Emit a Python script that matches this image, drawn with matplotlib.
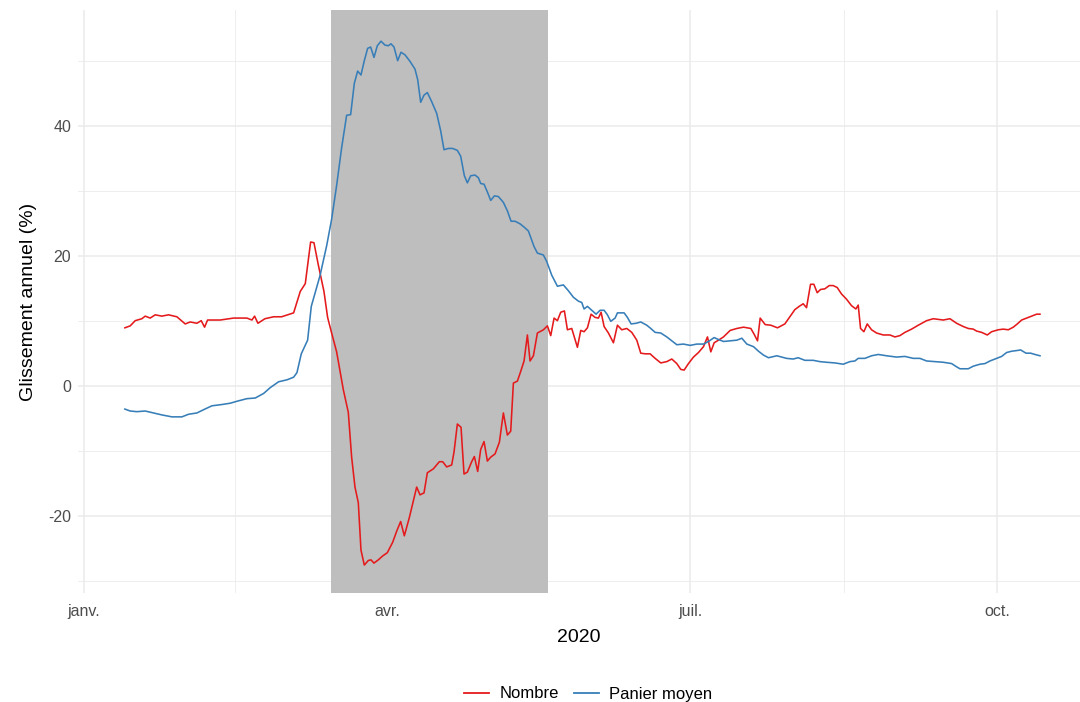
import matplotlib
matplotlib.use("Agg")
import matplotlib.pyplot as plt
import matplotlib.dates as mdates
from matplotlib.lines import Line2D
import numpy as np
import pandas as pd

plt.rcParams['font.family'] = ['Liberation Sans', 'DejaVu Sans']

# Days since 2020-01-01 and values (%)
nombre_jour = [12.4, 14, 15.5, 17.5, 18.5, 20, 21.5, 23.5, 25.5, 28, 30.5, 32, 34, 35.3, 36.3, 37.2,
               41, 45, 49, 50.5, 51.3, 52.3, 54.4, 57, 59.4, 63, 65, 66.5, 68.1, 69.1, 70.4, 72.1,
               73.2, 74.4, 75.9, 77.9, 79.4, 80.4, 81.4, 82.4, 83.2, 84.2, 85.4, 86.2, 87.1, 88.4,
               89.7, 91.1, 92.7, 93.9, 95.1, 96.2, 97.7, 98.9, 99.9, 100.9, 102.1, 103.1, 104.9,
               106.7, 107.7, 108.9, 110.4, 111.1, 112.1, 113.2, 114.1, 115.1, 116.4, 117.2, 118.2,
               119.1, 120.1, 121.1, 122.1, 123.4, 124.7, 125.9, 127.1, 128.1, 128.9, 130.1, 131.1,
               132.1, 133.1, 133.9, 134.9, 136.1, 137.9, 139.1, 140.1, 141.1, 142.1, 143.1, 144.2,
               145.1, 146.4, 148.1, 149.1, 150.1, 151.1, 152.2, 153.4, 154.4, 155.2, 156.1, 157.4,
               158.9, 160.1, 161.4, 162.9, 164.4, 165.9, 167.1, 168.4, 169.9, 171.4, 173.1, 174.9,
               176.4, 177.9, 179.1, 180.1, 181.4, 182.9, 184.4, 185.9, 187.1, 188.1, 189.1, 190.4,
               191.9, 193.9, 195.9, 197.9, 200.1, 201.1, 202.1, 202.9, 204.4, 206.1, 208.1, 210.3,
               211.8, 213.3, 214.6, 215.8, 216.8, 218, 219, 220, 221, 222.3, 223.6, 224.8, 226,
               227.3, 228.8, 230.3, 231.6, 232.3, 233, 234, 235, 236.3, 237.8, 239.8, 241.8, 243.3,
               244.8, 246.3, 248.3, 250.3, 252.8, 254.8, 257.8, 259.8, 261.8, 263.8, 265.3, 266.8,
               267.8, 269.3, 271, 272.3, 274.3, 275.8, 277.3, 278.8, 280, 281.3, 282.8, 284.3,
               285.8, 286.8]
nombre_val = [8.9, 9.2, 10, 10.3, 10.7, 10.4, 10.9, 10.7, 10.9, 10.6, 9.5, 9.8, 9.6, 10, 9, 10.1,
              10.1, 10.4, 10.4, 10.1, 10.7, 9.6, 10.3, 10.6, 10.6, 11.2, 14.5, 15.7, 22.1, 22, 18.6, 14.5,
              10.5, 8.1, 5.2, -0.6, -4.1, -11, -15.6, -18, -25.3, -27.6, -26.9, -26.8, -27.3, -26.8,
              -26.2, -25.7, -24.1, -22.4, -20.9, -23.1, -20.3, -17.7, -15.6, -16.8, -16.5, -13.4, -12.8,
              -11.7, -11.7, -12.5, -12.2, -10.2, -5.9, -6.4, -13.6, -13.3, -11.7, -10.9, -13.2,
              -9.8, -8.6, -11.6, -11, -10.5, -8.7, -4.2, -7.6, -7, 0.4, 0.7, 2.2,
              3.8, 7.8, 3.8, 4.6, 8.1, 8.6, 9.2, 7.7, 10.4, 10, 11.3, 11.5,
              8.6, 8.8, 5.9, 8.5, 8.3, 8.9, 11, 10.5, 10.4, 11.3, 9.1, 8.1,
              6.6, 9.3, 8.6, 8.8, 8.2, 7, 5, 4.9, 4.9, 4.2, 3.5, 3.7,
              4.1, 3.4, 2.5, 2.4, 3.4, 4.4, 5.1, 6, 7.5, 5.2, 6.6, 7,
              7.5, 8.5, 8.8, 9, 8.8, 7.9, 6.9, 10.4, 9.4, 9.3, 8.9, 9.5,
              10.6, 11.7, 12.2, 12.6, 12, 15.6, 15.6, 14.3, 14.8, 14.9, 15.4, 15.4, 15.1,
              14.1, 13.3, 12.3, 11.8, 12.4, 8.8, 8.3, 9.5, 8.6, 8.1, 7.8, 7.8, 7.5,
              7.7, 8.2, 8.7, 9.3, 10, 10.3, 10.1, 10.3, 9.6, 9.1, 8.8, 8.7,
              8.4, 8.2, 7.8, 8.3, 8.6, 8.7, 8.6, 9, 9.5, 10.1, 10.4, 10.7,
              11, 11]

panier_jour = [12.4, 14, 16, 18.5, 21, 23.5, 26.5, 29.5, 31.5, 34, 36, 38.5, 41.5, 44, 46, 49, 51.5,
               54, 56, 58.5, 61, 63, 64, 65.3, 67.2, 68.3, 70.9, 72.9, 74.4, 75.9, 77.4, 78.9, 80.1,
               81.2, 82.2, 83.2, 84.2, 85.2, 86.1, 87.1, 88.1, 89.2, 90.4, 91.4, 92.2, 93.1, 94.2,
               95.2, 96.4, 97.9, 99.4, 100.2, 101.1, 102.1, 103.1, 104.4, 105.9, 107.1, 108.1, 109.4,
               110.7, 112.1, 113.1, 114.2, 115.1, 116.1, 117.4, 118.4, 119.1, 120.1, 121.1, 122.1,
               123.2, 124.4, 125.9, 127.1, 128.2, 129.4, 130.9, 132.1, 133.4, 135.1, 136.1, 137.9,
               138.9, 140.4, 142.1, 143.9, 145.4, 146.9, 148.4, 149.4, 150.1, 151.1, 152.4, 153.7,
               154.9, 156.1, 157.1, 158.1, 159.4, 160.1, 162.1, 163.1, 164.2, 165.7, 167.1, 168.9,
               170.1, 171.4, 173.1, 174.9, 176.4, 177.9, 179.9, 181.9, 183.9, 185.9, 187.4, 189.1,
               190.4, 191.9, 193.9, 195.9, 197.4, 198.9, 200.9, 202.4, 203.9, 205.4, 207.9, 210.8,
               212.8, 214.3, 216.3, 218.8, 220.8, 222.8, 225.3, 227.8, 229.8, 231.3, 232.3, 234.3,
               236.3, 238.3, 240.8, 243.8, 246.3, 248.8, 250.8, 252.8, 255.3, 257.8, 260.3, 261.8,
               262.8, 265.3, 266.8, 268.8, 270.3, 271.8, 273.8, 275.3, 276.8, 278.3, 279.8, 281,
               282.6, 284, 285.3, 286.8]
panier_val = [-3.6, -3.9, -4, -3.9, -4.2, -4.5, -4.8, -4.8, -4.4, -4.2, -3.7, -3.1, -2.9, -2.7, -2.4, -2, -1.9,
              -1.2, -0.3, 0.6, 0.9, 1.3, 2, 4.9, 7, 12.2, 16.9, 21.5, 25.6, 30.8, 36.6, 41.6, 41.7,
              46.5, 48.4, 47.8, 50, 51.9, 52.1, 50.5, 52.3, 53, 52.4, 52.3, 52.6, 52.1, 50,
              51.3, 50.9, 49.9, 48.7, 47.1, 43.6, 44.7, 45.1, 43.7, 41.9, 39.2, 36.3, 36.5,
              36.5, 36.2, 35.3, 32.3, 31.2, 32.3, 32.4, 32, 31.1, 31, 29.8, 28.5,
              29.2, 29.1, 28.2, 26.9, 25.3, 25.3, 24.9, 24.4, 23.8, 21.4, 20.4, 20.1,
              19.1, 17, 15.3, 15.5, 14.6, 13.6, 13, 12.8, 11.8, 12.2, 11.6, 11,
              11.6, 11.6, 10.9, 9.9, 10.4, 11.2, 11.2, 10.5, 9.5, 9.6, 9.8, 9.3,
              8.8, 8.2, 8.1, 7.5, 6.9, 6.3, 6.4, 6.2, 6.4, 6.4, 6.8, 7.4,
              7.1, 6.8, 6.9, 7, 7.3, 6.4, 6, 5.3, 4.7, 4.3, 4.6, 4.2,
              4.1, 4.3, 3.9, 3.9, 3.7, 3.6, 3.5, 3.3, 3.7, 3.8, 4.2, 4.2,
              4.6, 4.8, 4.6, 4.4, 4.5, 4.2, 4.2, 3.8, 3.7, 3.6, 3.4, 2.9,
              2.6, 2.6, 3, 3.3, 3.4, 3.8, 4.2, 4.5, 5.1, 5.3, 5.4, 5.5,
              5, 5, 4.8, 4.6]

# Shaded period (days since 2020-01-01)
periode_debut = 74.2
periode_fin = 139.3

series_noms = ["Nombre", "Panier moyen"]
series_couleurs = ["#E41A1C", "#377EB8"]

origine = pd.Timestamp("2020-01-01")
def to_dates(jours):
    return origine + pd.to_timedelta(np.asarray(jours, dtype=float), unit="D")

fig = plt.figure(figsize=(10.8, 7.02), dpi=100)
ax = fig.add_axes([78/1080, 1 - 593/702, 1 - 78/1080, (593 - 10)/702])

grid_col = "#EBEBEB"
# grid
for v in [-20, 0, 20, 40]:
    ax.axhline(v, color=grid_col, lw=1.1, zorder=0)
for v in [-30, -10, 10, 30, 50]:
    ax.axhline(v, color=grid_col, lw=0.6, zorder=0)
major_dates = pd.to_datetime(["2020-01-01", "2020-04-01", "2020-07-01", "2020-10-01"])
minor_days = [45.5, 136.5, 228]
for d in major_dates:
    ax.axvline(d, color=grid_col, lw=1.1, zorder=0)
for d in to_dates(minor_days):
    ax.axvline(d, color=grid_col, lw=0.6, zorder=0)

ax.axvspan(to_dates([periode_debut])[0], to_dates([periode_fin])[0], color="#BEBEBE", lw=0, zorder=1)

ax.plot(to_dates(nombre_jour), nombre_val, color=series_couleurs[0], lw=1.15, zorder=3)
ax.plot(to_dates(panier_jour), panier_val, color=series_couleurs[1], lw=1.15, zorder=3)

ax.set_xlim(to_dates([-1.65])[0], to_dates([298.8])[0])
ax.set_ylim(-31.9, 57.8)

ax.set_yticks([-20, 0, 20, 40])
ax.set_yticklabels(["-20", "0", "20", "40"])
ax.set_xticks(major_dates)
ax.set_xticklabels(["janv.", "avr.", "juil.", "oct."])
ax.tick_params(axis="both", length=0, labelsize=11.5, labelcolor="#4D4D4D")
ax.tick_params(axis="x", pad=8)
ax.tick_params(axis="y", pad=5)
for s in ax.spines.values():
    s.set_visible(False)

ax.set_xlabel("2020", fontsize=14, color="black", labelpad=7)
ax.set_ylabel("Glissement annuel (%)", fontsize=14, color="black", labelpad=8)

handles = [Line2D([0], [0], color=c, lw=1.3) for c in series_couleurs]
fig.legend(handles, series_noms, loc="center", bbox_to_anchor=(588/1080, 1 - 694/702),
           ncol=2, frameon=False, fontsize=12, handlelength=1.5, handletextpad=0.6,
           columnspacing=0.9)

fig.savefig("out.png", dpi=100)
